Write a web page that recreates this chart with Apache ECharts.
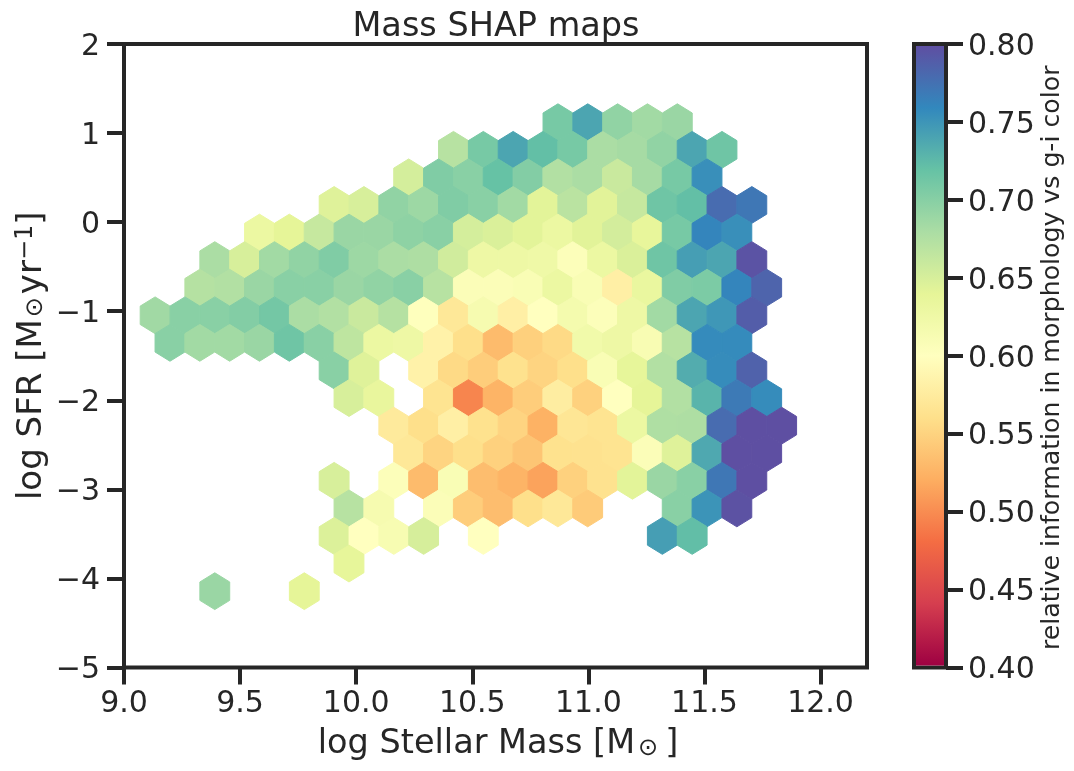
<!DOCTYPE html>
<html>
<head>
<meta charset="utf-8">
<title>Mass SHAP maps</title>
<script src="https://cdn.jsdelivr.net/npm/echarts@6/dist/echarts.min.js"></script>
<style>
html, body { margin: 0; padding: 0; background: #fff; }
#main { width: 1074px; height: 771px; }
</style>
</head>
<body>
<div id="main"></div>
<script>
// hexbin rows, top to bottom: centre of the row, centre of its first bin, value of each bin (null = empty bin)
const massStep = 0.1285;
const sfrStep = 0.3097;
const rowSfr = [1.122, 0.812, 0.503, 0.193, -0.117, -0.426, -0.736, -1.046, -1.355,
    -1.665, -1.975, -2.285, -2.594, -2.904, -3.214, -3.523, -3.833, -4.143];
const rowFirstMass = [10.869, 10.419, 10.226, 9.905, 9.5835, 9.391, 9.3265, 9.134, 9.198,
    9.905, 9.969, 10.162, 10.226, 9.905, 9.969, 9.905, 9.969, 9.391];
const rowInfo = [
    [.71, .74, .695, .685, .69],
    [.672, .71, .74, .722, .71, .68, .683, .695, .74, .715],
    [.652, .705, .70, .72, .703, .675, .68, .66, .683, .71, .755],
    [.645, .65, .695, .688, .705, .70, .685, .642, .67, .643, .662, .715, .722, .78, .772],
    [.63, .64, .662, .69, .69, .697, .70, .652, .648, .642, .63, .643, .653, .637, .71, .762, .755],
    [.68, .65, .685, .695, .705, .688, .68, .678, .655, .627, .627, .625, .605, .63, .648, .715, .745, .74, .797],
    [.673, .675, .69, .70, .70, .69, .695, .70, .672, .607, .607, .61, .63, .61, .58, .633, .705, .707, .762, .785],
    [.686, .70, .70, .703, .712, .68, .675, .66, .673, .602, .57, .615, .58, .60, .617, .605, .627, .685, .74, .75, .79],
    [.70, .685, .685, .69, .715, .70, .667, .63, .627, .583, .56, .53, .547, .555, .622, .627, .612, .672, .758, .758],
    [.70, .645, null, .583, .555, .545, .562, .55, .56, .61, .638, .675, .735, .757, .787],
    [.65, .635, null, .565, .495, .525, .545, .577, .548, .60, .64, .675, .73, .77, .757],
    [.573, .56, .58, .562, .55, .523, .568, .565, .63, .677, .678, .78, .80, .80],
    [.57, .55, .56, .548, .538, .562, .563, .565, .607, .645, .738, .80, .80],
    [.65, null, .605, .53, .61, .532, .525, .513, .548, .563, .642, .69, .70, .772, .80],
    [.672, .615, null, .607, .545, .532, .56, .57, .543, null, null, .70, .752, .798],
    [.647, .60, .613, .651, null, .60, null, null, null, null, null, .745, .723],
    [.638],
    [.69, null, null, .64]
];

const xTicks = [9, 9.5, 10, 10.5, 11, 11.5, 12];
const cbarColors = ['#9e0142', '#d53e4f', '#f46d43', '#fdae61', '#fee08b', '#ffffbf',
    '#e6f598', '#abdda4', '#66c2a5', '#3288bd', '#5e4fa2'];

const ink = '#262626';
const font = '"DejaVu Sans"';

let bins = [];
rowInfo.forEach(function (row, r) {
    row.forEach(function (v, i) {
        if (v !== null) {
            bins.push([rowFirstMass[r] + i * massStep, rowSfr[r], v]);
        }
    });
});

function renderHex(params, api) {
    let x = api.value(0), y = api.value(1);
    let hw = massStep / 2, a = sfrStep * 2 / 3, b = sfrStep / 3;
    let pts = [[x, y + a], [x + hw, y + b], [x + hw, y - b], [x, y - a], [x - hw, y - b], [x - hw, y + b]];
    let color = api.visual('color');
    return {
        type: 'polygon',
        shape: { points: pts.map(function (p) { return api.coord(p); }) },
        style: { fill: color, stroke: color, lineWidth: 1 }
    };
}

// the bar stops at the inner edge of the frame
function renderCbar(params, api) {
    let p0 = api.coord([0, 0.8]), p1 = api.coord([1, 0.4]);
    let stops = cbarColors.map(function (c, i) {
        return { offset: 1 - i / (cbarColors.length - 1), color: c };
    });
    return {
        type: 'rect',
        shape: { x: p0[0] + 2, y: p0[1] + 2, width: p1[0] - p0[0] - 4, height: p1[1] - p0[1] - 4 },
        style: { fill: new echarts.graphic.LinearGradient(0, 0, 0, 1, stops) }
    };
}

let tick = { show: true, length: 17, inside: false, lineStyle: { color: ink, width: 4 } };
let label = { color: ink, fontFamily: font, fontSize: 30 };
let noLine = { show: false, onZero: false };
// y tick labels sit a little lower than echarts centres them
let lowered = { v: { color: ink, fontFamily: font, fontSize: 30, padding: [6, 0, 0, 0] } };

let chart = echarts.init(document.getElementById('main'), null, { renderer: 'canvas' });
chart.setOption({
    animation: false,
    backgroundColor: '#fff',
    title: {
        text: 'Mass SHAP maps',
        left: 491, top: 5,
        textAlign: 'center',
        textStyle: { color: ink, fontFamily: font, fontSize: 33.5, fontWeight: 'normal' }
    },
    visualMap: {
        show: false,
        seriesIndex: 0,
        dimension: 2,
        min: 0.4, max: 0.8,
        inRange: { color: cbarColors }
    },
    grid: [
        { left: 124, top: 44, width: 743, height: 623.5, show: true, borderColor: ink, borderWidth: 4, backgroundColor: 'transparent' },
        { left: 914, top: 44, width: 32, height: 623.5, show: true, borderColor: ink, borderWidth: 4, backgroundColor: 'transparent' }
    ],
    xAxis: [
        {
            type: 'value', gridIndex: 0, min: 9, max: 12.2,
            splitLine: { show: false },
            axisLine: noLine,
            axisTick: Object.assign({}, tick, { customValues: xTicks }),
            axisLabel: Object.assign({}, label, {
                margin: 22,
                customValues: xTicks,
                formatter: function (v) { return v.toFixed(1); }
            }),
            name: 'log Stellar Mass [M{sub|⊙}]',
            nameLocation: 'middle',
            nameMoveOverlap: false,
            nameGap: 60,
            nameTextStyle: {
                color: ink, fontFamily: font, fontSize: 33.5,
                padding: [0, 0, 0, 5],
                rich: { sub: { fontFamily: font, fontSize: 24, color: ink, padding: [8, 7, 0, 3] } }
            }
        },
        { type: 'value', gridIndex: 1, min: 0, max: 1, show: false }
    ],
    yAxis: [
        {
            type: 'value', gridIndex: 0, min: -5, max: 2, interval: 1,
            splitLine: { show: false },
            axisLine: noLine,
            axisTick: tick,
            axisLabel: Object.assign({}, label, {
                margin: 24,
                rich: lowered,
                formatter: function (v) { return '{v|' + String(v).replace('-', '\u2212') + '}'; }
            }),
            name: 'log SFR [M{sub|⊙}yr{sup|−1}]',
            nameLocation: 'middle',
            nameMoveOverlap: false,
            nameGap: 74,
            nameTextStyle: {
                color: ink, fontFamily: font, fontSize: 34,
                rich: {
                    sub: { fontFamily: font, fontSize: 24, color: ink, padding: [8, 3, 0, 2] },
                    sup: { fontFamily: font, fontSize: 24, color: ink, padding: [0, 0, 12, 0] }
                }
            }
        },
        {
            type: 'value', gridIndex: 1, min: 0.4, max: 0.8, interval: 0.05,
            position: 'right',
            splitLine: { show: false },
            axisLine: noLine,
            axisTick: tick,
            axisLabel: Object.assign({}, label, {
                margin: 22,
                rich: lowered,
                formatter: function (v) { return '{v|' + v.toFixed(2) + '}'; }
            }),
            name: 'relative information in morphology vs g-i color',
            nameLocation: 'middle',
            nameMoveOverlap: false,
            nameRotate: 90,
            nameGap: 94,
            nameTextStyle: { color: ink, fontFamily: font, fontSize: 25.2, padding: [0, 4, 0, 0] }
        }
    ],
    series: [
        {
            type: 'custom',
            xAxisIndex: 0, yAxisIndex: 0,
            renderItem: renderHex,
            encode: { x: 0, y: 1 },
            data: bins,
            z: 1
        },
        {
            type: 'custom',
            xAxisIndex: 1, yAxisIndex: 1,
            renderItem: renderCbar,
            data: [[0, 0.4]],
            silent: true,
            z: 1
        }
    ]
});
</script>
</body>
</html>
